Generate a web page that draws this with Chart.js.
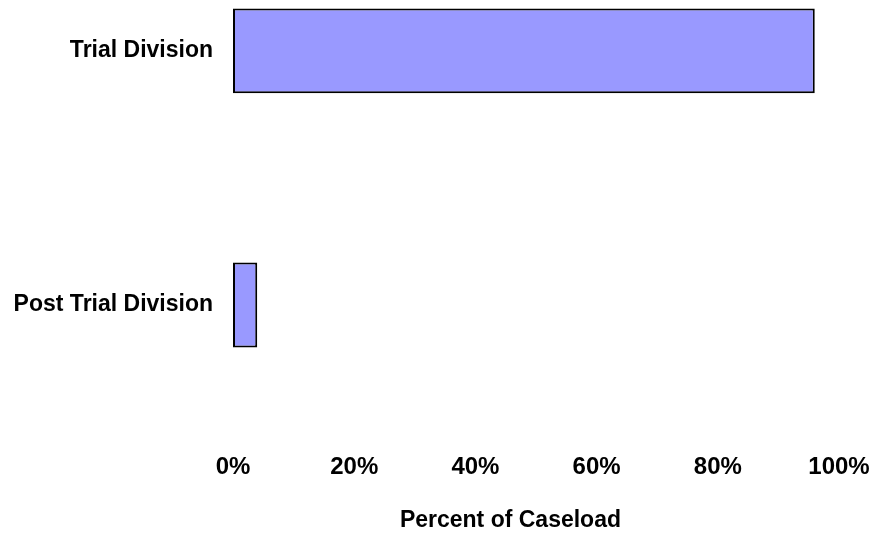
<!DOCTYPE html>
<html>
<head>
<meta charset="utf-8">
<script src="https://cdn.jsdelivr.net/npm/chart.js@4/dist/chart.umd.min.js"></script>
<style>
  html, body { margin: 0; padding: 0; background: #fff; overflow: hidden; }
  #wrap { position: absolute; left: 0; top: -110px; width: 875px; height: 646px; }
</style>
</head>
<body>
<div id="wrap"><canvas id="c" width="875" height="646"></canvas></div>
<script>
const categories = ["Trial Division", "Post Trial Division"];
const percentOfCaseload = [96, 4];
const tickValues = [0, 20, 40, 60, 80, 100];
const axisTitle = "Percent of Caseload";

const FONT = "'Liberation Sans', Arial, sans-serif";

new Chart(document.getElementById('c'), {
  type: 'bar',
  data: {
    labels: categories,
    datasets: [{
      data: percentOfCaseload,
      backgroundColor: '#9999FF',
      borderColor: '#000000',
      borderWidth: 2,
      borderSkipped: false,
      categoryPercentage: 0.668,
      barPercentage: 0.5
    }]
  },
  options: {
    indexAxis: 'y',
    responsive: false,
    animation: false,
    layout: { padding: { left: 0, right: 36, top: 0, bottom: 0 } },
    plugins: { legend: { display: false }, tooltip: { enabled: false } },
    scales: {
      x: {
        min: 0, max: 100,
        afterBuildTicks: (s) => { s.ticks = tickValues.map(v => ({ value: v })); },
        afterFit: (s) => { s.height = 104; },
        grid: { display: false, drawTicks: true, tickLength: 21 },
        border: { display: false },
        ticks: {
          padding: 0,
          color: '#000',
          font: { family: FONT, size: 24, weight: 'bold' },
          callback: (v) => v + '%',
          maxRotation: 0
        },
        title: {
          display: true,
          text: axisTitle + '        ',
          color: '#000',
          font: { family: FONT, size: 23, weight: 'bold' },
          padding: { top: 0, bottom: 2 }
        }
      },
      y: {
        afterFit: (s) => { s.width = 233; },
        grid: { display: false, drawTicks: false },
        border: { display: false },
        ticks: {
          padding: 20,
          color: '#000',
          font: { family: FONT, size: 23, weight: 'bold' }
        }
      }
    }
  }
});
</script>
</body>
</html>
